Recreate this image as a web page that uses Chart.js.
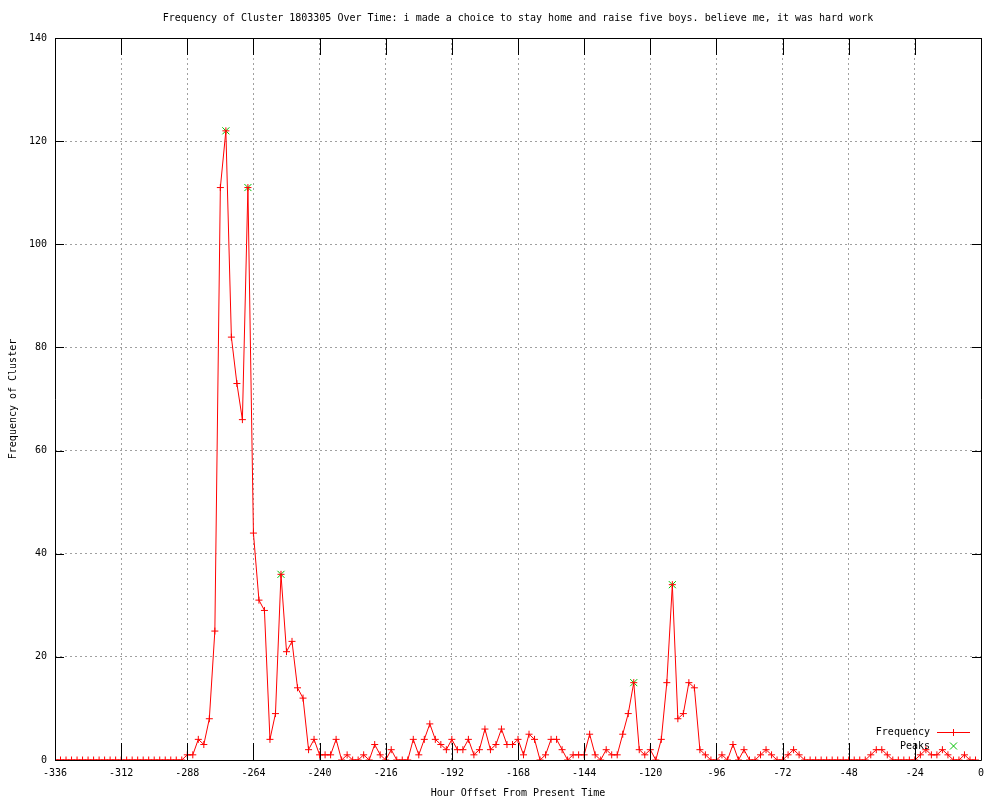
<!DOCTYPE html>
<html>
<head>
<meta charset="utf-8">
<title>Frequency of Cluster 1803305</title>
<script src="https://cdn.jsdelivr.net/npm/chart.js@4.4.0/dist/chart.umd.min.js"></script>
<style>
    body { margin: 0; background: #fff; }
    canvas { display: block; }
</style>
</head>
<body>
<canvas id="clusterChart" width="1000" height="800"></canvas>
<script>
// hours before present (one bucket every 2 hours)
const hours = [
    -336, -334, -332, -330, -328, -326, -324, -322, -320, -318, -316, -314,
    -312, -310, -308, -306, -304, -302, -300, -298, -296, -294, -292, -290,
    -288, -286, -284, -282, -280, -278, -276, -274, -272, -270, -268, -266,
    -264, -262, -260, -258, -256, -254, -252, -250, -248, -246, -244, -242,
    -240, -238, -236, -234, -232, -230, -228, -226, -224, -222, -220, -218,
    -216, -214, -212, -210, -208, -206, -204, -202, -200, -198, -196, -194,
    -192, -190, -188, -186, -184, -182, -180, -178, -176, -174, -172, -170,
    -168, -166, -164, -162, -160, -158, -156, -154, -152, -150, -148, -146,
    -144, -142, -140, -138, -136, -134, -132, -130, -128, -126, -124, -122,
    -120, -118, -116, -114, -112, -110, -108, -106, -104, -102, -100, -98,
    -96, -94, -92, -90, -88, -86, -84, -82, -80, -78, -76, -74,
    -72, -70, -68, -66, -64, -62, -60, -58, -56, -54, -52, -50,
    -48, -46, -44, -42, -40, -38, -36, -34, -32, -30, -28, -26,
    -24, -22, -20, -18, -16, -14, -12, -10, -8, -6, -4, -2
];

// frequency of the cluster in each bucket
const frequency = [
    0, 0, 0, 0, 0, 0, 0, 0, 0, 0, 0, 0,
    0, 0, 0, 0, 0, 0, 0, 0, 0, 0, 0, 0,
    1, 1, 4, 3, 8, 25, 111, 122, 82, 73, 66, 111,
    44, 31, 29, 4, 9, 36, 21, 23, 14, 12, 2, 4,
    1, 1, 1, 4, 0, 1, 0, 0, 1, 0, 3, 1,
    0, 2, 0, 0, 0, 4, 1, 4, 7, 4, 3, 2,
    4, 2, 2, 4, 1, 2, 6, 2, 3, 6, 3, 3,
    4, 1, 5, 4, 0, 1, 4, 4, 2, 0, 1, 1,
    1, 5, 1, 0, 2, 1, 1, 5, 9, 15, 2, 1,
    2, 0, 4, 15, 34, 8, 9, 15, 14, 2, 1, 0,
    0, 1, 0, 3, 0, 2, 0, 0, 1, 2, 1, 0,
    0, 1, 2, 1, 0, 0, 0, 0, 0, 0, 0, 0,
    0, 0, 0, 0, 1, 2, 2, 1, 0, 0, 0, 0,
    0, 1, 2, 1, 1, 2, 1, 0, 0, 1, 0, 0
];

// detected peaks
const peakHours = [-274, -266, -254, -126, -112];
const peakValues = [122, 111, 36, 15, 34];

// axis ticks
const xTicks = [-336, -312, -288, -264, -240, -216, -192, -168, -144, -120, -96, -72, -48, -24, 0];
const yTicks = [0, 20, 40, 60, 80, 100, 120, 140];

const FONT = { family: '"DejaVu Sans Mono", monospace', size: 10, weight: 'normal' };

// border box, mirrored tic marks and the legend, drawn like gnuplot does
const gnuplotFrame = {
    id: 'gnuplotFrame',
    afterDatasetsDraw(chart) {
        const { ctx, chartArea: a, scales: { x, y } } = chart;
        ctx.save();
        ctx.strokeStyle = '#000';
        ctx.lineWidth = 1;
        ctx.beginPath();
        ctx.rect(a.left + 0.5, a.top + 0.5, a.right - a.left, a.bottom - a.top);
        xTicks.forEach(v => {
            const px = Math.round(x.getPixelForValue(v)) + 0.5;
            ctx.moveTo(px, a.bottom);
            ctx.lineTo(px, a.bottom - 17);
            ctx.moveTo(px, a.top);
            ctx.lineTo(px, a.top + 17);
        });
        yTicks.forEach(v => {
            const py = Math.round(y.getPixelForValue(v)) + 0.5;
            ctx.moveTo(a.left, py);
            ctx.lineTo(a.left + 9, py);
            ctx.moveTo(a.right, py);
            ctx.lineTo(a.right - 9, py);
        });
        ctx.stroke();
        ctx.restore();
    },
    afterDraw(chart) {
        const { ctx, chartArea: a } = chart;
        const textX = a.right - 51;
        const markX = a.right - 28;
        ctx.save();
        ctx.font = '10px "DejaVu Sans Mono", monospace';
        ctx.fillStyle = '#000';
        ctx.textAlign = 'right';
        ctx.textBaseline = 'middle';
        ctx.fillText('Frequency', textX, a.bottom - 28);
        ctx.fillText('Peaks', textX, a.bottom - 14);

        // frequency sample: line with a plus
        ctx.strokeStyle = '#ff0000';
        ctx.lineWidth = 1;
        ctx.beginPath();
        ctx.moveTo(a.right - 44, a.bottom - 27.5);
        ctx.lineTo(a.right - 11, a.bottom - 27.5);
        ctx.moveTo(markX + 0.5, a.bottom - 31);
        ctx.lineTo(markX + 0.5, a.bottom - 24);
        ctx.stroke();

        // peaks sample: green x
        ctx.strokeStyle = '#00c000';
        ctx.beginPath();
        ctx.moveTo(markX - 3, a.bottom - 17.5);
        ctx.lineTo(markX + 4, a.bottom - 10.5);
        ctx.moveTo(markX + 4, a.bottom - 17.5);
        ctx.lineTo(markX - 3, a.bottom - 10.5);
        ctx.stroke();
        ctx.restore();
    }
};

const ctx = document.getElementById('clusterChart').getContext('2d');
new Chart(ctx, {
    type: 'line',
    data: {
        datasets: [{
            label: 'Frequency',
            data: hours.map((h, i) => ({ x: h, y: frequency[i] })),
            borderColor: '#ff0000',
            backgroundColor: '#ff0000',
            borderWidth: 1,
            tension: 0,
            fill: false,
            pointStyle: 'cross',
            pointRadius: 3.5,
            pointBorderColor: '#ff0000',
            pointBorderWidth: 1
        }, {
            label: 'Peaks',
            data: peakHours.map((h, i) => ({ x: h, y: peakValues[i] })),
            showLine: false,
            borderColor: '#00c000',
            backgroundColor: '#00c000',
            pointStyle: 'crossRot',
            pointRadius: 5,
            pointBorderColor: '#00c000',
            pointBorderWidth: 1
        }]
    },
    plugins: [gnuplotFrame],
    options: {
        responsive: false,
        animation: false,
        devicePixelRatio: 1,
        layout: { padding: { left: 0, right: 19, top: 0, bottom: 0 } },
        plugins: {
            legend: { display: false },
            tooltip: { enabled: false },
            title: {
                display: true,
                fullSize: false,
                text: 'Frequency of Cluster 1803305 Over Time: i made a choice to stay home and raise five boys. believe me, it was hard work',
                color: '#000',
                font: FONT,
                padding: { top: 12, bottom: 14 }
            }
        },
        scales: {
            x: {
                type: 'linear',
                min: -336,
                max: 0,
                afterFit: scale => { scale.height = 40; },
                afterBuildTicks: scale => { scale.ticks = xTicks.map(v => ({ value: v })); },
                ticks: { color: '#000', font: FONT, padding: 7, maxRotation: 0, autoSkip: false },
                grid: { color: '#a0a0a0', lineWidth: 1, drawTicks: false },
                border: { display: false, dash: [2, 3] },
                title: {
                    display: true,
                    text: 'Hour Offset From Present Time',
                    color: '#000',
                    font: FONT,
                    padding: { top: 0, bottom: 1 }
                }
            },
            y: {
                type: 'linear',
                min: 0,
                max: 140,
                afterFit: scale => { scale.width = 55; },
                afterBuildTicks: scale => { scale.ticks = yTicks.map(v => ({ value: v })); },
                ticks: { color: '#000', font: FONT, padding: 8 },
                grid: { color: '#a0a0a0', lineWidth: 1, drawTicks: false },
                border: { display: false, dash: [2, 3] },
                title: {
                    display: true,
                    text: 'Frequency of Cluster',
                    color: '#000',
                    font: FONT,
                    padding: { top: 7, bottom: 0 }
                }
            }
        }
    }
});
</script>
</body>
</html>
